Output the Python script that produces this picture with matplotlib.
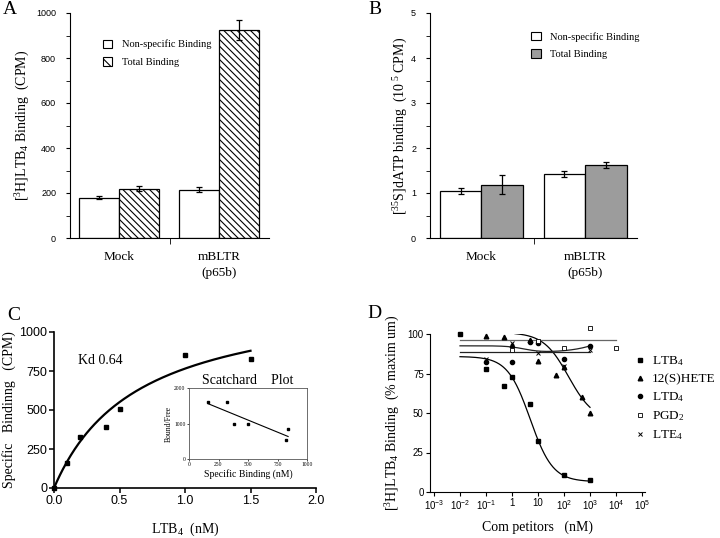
import numpy as np
import matplotlib
matplotlib.use("Agg")
import matplotlib.pyplot as plt
from matplotlib.patches import Patch

plt.rcParams["font.family"] = "Liberation Serif"
plt.rcParams["mathtext.fontset"] = "custom"
plt.rcParams["mathtext.rm"] = "Liberation Serif"
plt.rcParams["mathtext.it"] = "Liberation Serif:italic"
plt.rcParams["hatch.linewidth"] = 0.8
SANS = "Liberation Sans"

# ---------------------------------------------------------------- data
# A: [3H]LTB4 binding (CPM)
groups = ["Mock", "mBLTR\n(p65b)"]
a_nonspec = [180, 215]
a_nonspec_err = [8, 10]
a_total = [220, 925]
a_total_err = [12, 45]

# B: [35S]dATP binding (10^5 CPM)
b_nonspec = [1.04, 1.43]
b_nonspec_err = [0.07, 0.07]
b_total = [1.18, 1.63]
b_total_err = [0.21, 0.07]

# C: saturation binding + Scatchard inset
c_conc = [0.0, 0.1, 0.2, 0.4, 0.5, 1.0, 1.5]
c_bound = [0, 160, 325, 390, 505, 850, 830]
c_kd = 0.64
c_bmax = 1255
sc_bound = [160, 322, 384, 496, 818, 840]
sc_ratio = [1604, 1613, 972, 990, 538, 840]

# D: competition binding (% maximum)
d_ltb4_x = [0.01, 0.1, 0.5, 1, 5, 10, 100, 1000]
d_ltb4_y = [100, 78, 67, 73, 56, 32, 11, 7.5]
d_hete_x = [0.1, 0.5, 1, 5, 10, 50, 100, 500, 1000]
d_hete_y = [99, 98, 93, 96, 83, 74, 79, 60, 50]
d_ltd4_x = [0.1, 1, 5, 10, 100, 1000]
d_ltd4_y = [82, 82, 95, 94.5, 84, 92.5]
d_pgd2_x = [1, 10, 100, 1000, 10000]
d_pgd2_y = [90, 95.5, 91, 104, 91]
d_lte4_x = [0.1, 1, 10, 100, 1000]
d_lte4_y = [84, 94, 88, 80, 90]
d_ticks = [1e-3, 1e-2, 1e-1, 1, 10, 1e2, 1e3, 1e4, 1e5]
d_ticklabels = [r"$\mathdefault{10^{-3}}$", r"$\mathdefault{10^{-2}}$",
                r"$\mathdefault{10^{-1}}$", "1", "10",
                r"$\mathdefault{10^{2}}$", r"$\mathdefault{10^{3}}$",
                r"$\mathdefault{10^{4}}$", r"$\mathdefault{10^{5}}$"]

# fitted-curve parameters (top, bottom, IC50, hill)
fit_ltb4 = (85.8, 6.5, 5.0, 1.0)
fit_hete = (101.0, 45.0, 150.0, 0.9)
fit_pgd2 = 96.0
fit_lte4 = 88.4


def logistic(x, top, bottom, ic50, hill):
    return bottom + (top - bottom) / (1 + (x / ic50) ** hill)


W, H = 720, 538
fig = plt.figure(figsize=(W / 100, H / 100), dpi=100)


def px_axes(l, t, r, b):
    return fig.add_axes([l / W, 1 - b / H, (r - l) / W, (b - t) / H])


def bar_panel(ax, nonspec, nonspec_err, total, total_err, total_style):
    x = np.arange(len(groups))
    w = 0.4
    ax.bar(x - w / 2, nonspec, w, color="white", edgecolor="k", lw=0.9)
    ax.bar(x + w / 2, total, w, edgecolor="k", lw=0.9, **total_style)
    ax.errorbar(x - w / 2, nonspec, nonspec_err, fmt="none", ecolor="k",
                elinewidth=0.9, capsize=2.5, capthick=0.9)
    ax.errorbar(x + w / 2, total, total_err, fmt="none", ecolor="k",
                elinewidth=0.9, capsize=2.5, capthick=0.9)
    ax.set_xlim(-0.495, 1.5)
    ax.set_xticks(x)
    ax.set_xticklabels(groups, fontsize=9.5, linespacing=1.45)
    ax.set_xticks([0.505], minor=True)
    ax.tick_params(axis="x", which="major", length=0, pad=9)
    ax.tick_params(axis="x", which="minor", length=4, direction="out")
    ax.tick_params(axis="y", which="both", direction="out", length=3,
                   labelsize=6.5, pad=7)
    ax.spines[["top", "right"]].set_visible(False)


# ---------------------------------------------------------------- A
axA = px_axes(70, 13, 269, 238)
HATCH = "\\\\\\\\\\"
bar_panel(axA, a_nonspec, a_nonspec_err, a_total, a_total_err,
          dict(color="white", hatch=HATCH))
axA.set_ylim(0, 1000)
axA.set_yticks(range(0, 1001, 200))
axA.set_yticks(range(100, 1000, 200), minor=True)
for lab in axA.get_yticklabels():
    lab.set_family(SANS)
axA.set_ylabel(r"[$^3$H]LTB$_4$ Binding  (CPM)", fontsize=10)
axA.yaxis.set_label_coords(-0.19, 0.5)
axA.legend(handles=[Patch(facecolor="white", edgecolor="k", lw=0.8),
                    Patch(facecolor="white", edgecolor="k", lw=0.8,
                          hatch="\\\\\\")],
           labels=["Non-specific Binding", "Total Binding"],
           loc="upper left", bbox_to_anchor=(0.14, 0.905), frameon=False,
           fontsize=7.5, handlelength=0.9, handleheight=0.9,
           handletextpad=0.9, labelspacing=0.75, borderpad=0)

# ---------------------------------------------------------------- B
axB = px_axes(430, 13, 637, 238)
bar_panel(axB, b_nonspec, b_nonspec_err, b_total, b_total_err,
          dict(color="#9c9c9c"))
axB.set_ylim(0, 5)
axB.set_yticks(range(0, 6))
axB.set_yticks(np.arange(0.5, 5, 1), minor=True)
for lab in axB.get_yticklabels():
    lab.set_family(SANS)
axB.set_ylabel(r"[$^{35}$S]dATP binding  (10$^{\ 5}$ CPM)", fontsize=10)
axB.yaxis.set_label_coords(-0.095, 0.5)
axB.legend(handles=[Patch(facecolor="white", edgecolor="k", lw=0.8),
                    Patch(facecolor="#9c9c9c", edgecolor="k", lw=0.8)],
           labels=["Non-specific Binding", "Total Binding"],
           loc="upper left", bbox_to_anchor=(0.465, 0.94), frameon=False,
           fontsize=7.5, handlelength=0.9, handleheight=0.9,
           handletextpad=0.9, labelspacing=0.75, borderpad=0)

# ---------------------------------------------------------------- C
axC = px_axes(54, 332, 316, 488)
xs = np.linspace(0, max(c_conc), 200)
axC.plot(xs, c_bmax * xs / (c_kd + xs), color="k", lw=1.6)
axC.plot(c_conc, c_bound, "s", color="k", ms=3.3, clip_on=False)
axC.set_xlim(0, 2)
axC.set_ylim(0, 1000)
axC.set_xticks(np.arange(0, 2.01, 0.5))
axC.set_yticks(range(0, 1001, 250))
axC.xaxis.set_major_formatter(matplotlib.ticker.FormatStrFormatter("%.1f"))
axC.tick_params(direction="out", length=3.5, width=1.1, labelsize=9, pad=1.5)
for lab in axC.get_xticklabels() + axC.get_yticklabels():
    lab.set_family(SANS)
axC.spines[["top", "right"]].set_visible(False)
axC.spines[["left", "bottom"]].set_linewidth(1.2)
axC.set_ylabel("Specific   Bindinng   (CPM)", fontsize=10)
axC.yaxis.set_label_coords(-0.145, 0.5)
axC.set_xlabel(r"LTB$_4$  (nM)", fontsize=10)
axC.xaxis.set_label_coords(0.5, -0.21)
axC.text(0.092, 0.82, "Kd 0.64", transform=axC.transAxes, fontsize=10,
         va="center")

axI = px_axes(189, 388, 307, 459)
m, c = np.polyfit(sc_bound, sc_ratio, 1)
fx = np.array([min(sc_bound), max(sc_bound)])
axI.plot(fx, m * fx + c, color="k", lw=0.8)
axI.plot(sc_bound, sc_ratio, "s", color="k", ms=1.6)
axI.set_xlim(0, 1000)
axI.set_ylim(0, 2000)
axI.set_xticks(range(0, 1001, 250))
axI.set_yticks([0, 1000, 2000])
axI.tick_params(direction="out", length=1.5, width=0.5, labelsize=4, pad=1)
for sp in axI.spines.values():
    sp.set_linewidth(0.6)
    sp.set_color("#555555")
axI.set_title("Scatchard    Plot", fontsize=10, pad=3)
axI.set_xlabel("Specific Binding (nM)", fontsize=7, labelpad=1)
axI.set_ylabel("Bound/Free", fontsize=5.5, labelpad=1)

# ---------------------------------------------------------------- D
axD = px_axes(430, 334, 645, 492)
axD.set_xscale("log")
lx = np.logspace(-2, 3, 300)
axD.plot(lx, logistic(lx, *fit_ltb4), color="k", lw=0.9)
hx = np.logspace(np.log10(1.3), 3, 200)
axD.plot(hx, logistic(hx, *fit_hete), color="k", lw=0.9)
axD.plot(lx, 88 + 4.5 / (1 + (lx / 3) ** 1.3) + 4.5 * (lx / 1000) ** 0.5,
         color="#222222", lw=0.9)
axD.plot([1e-2, 1e4], [fit_pgd2, fit_pgd2], color="#666666", lw=0.9)
axD.plot([1e-2, 1e3], [fit_lte4, fit_lte4], color="#222222", lw=0.9)

mk = dict(color="k", ls="none", clip_on=False)
h1, = axD.plot(d_ltb4_x, d_ltb4_y, marker="s", ms=3.3, **mk)
h2, = axD.plot(d_hete_x, d_hete_y, marker="^", ms=3.3, **mk)
h3, = axD.plot(d_ltd4_x, d_ltd4_y, marker="o", ms=3.0, **mk)
h4, = axD.plot(d_pgd2_x, d_pgd2_y, marker="s", ms=3.3, mfc="white",
               mec="k", mew=0.6, ls="none", clip_on=False)
h5, = axD.plot(d_lte4_x, d_lte4_y, marker="x", ms=3.0, mew=0.7, **mk)

axD.set_xlim(10 ** -3.154, 10 ** 5.115)
axD.set_ylim(0, 100)
axD.set_xticks(d_ticks)
axD.set_xticklabels(d_ticklabels)
axD.xaxis.set_minor_locator(matplotlib.ticker.NullLocator())
axD.set_yticks(range(0, 101, 25))
axD.tick_params(direction="out", length=3, labelsize=7, pad=1.5)
for lab in axD.get_xticklabels() + axD.get_yticklabels():
    lab.set_family(SANS)
axD.spines[["top", "right"]].set_visible(False)
axD.set_ylabel(r"[$^3$H]LTB$_4$ Binding  (% maxim um)", fontsize=10)
axD.yaxis.set_label_coords(-0.13, 0.5)
axD.set_xlabel("Com petitors   (nM)", fontsize=10)
axD.xaxis.set_label_coords(0.5, -0.18)

fig.legend(handles=[h1, h2, h3, h4, h5],
           labels=[r"LTB$_4$", "12(S)HETE", r"LTD$_4$", r"PGD$_2$", r"LTE$_4$"],
           loc="upper left", bbox_to_anchor=(628 / W, 1 - 348 / H),
           frameon=False, fontsize=9.5, handlelength=0.8, handletextpad=0.5,
           labelspacing=0.38, borderpad=0)

# ---------------------------------------------------------------- panel letters
for letter, (x, y) in zip("ABCD", [(3, 9), (368, 9), (7, 315), (367, 313)]):
    fig.text(x / W, 1 - y / H, letter, fontsize=14, va="center", ha="left")

fig.savefig("out.png", dpi=100)
